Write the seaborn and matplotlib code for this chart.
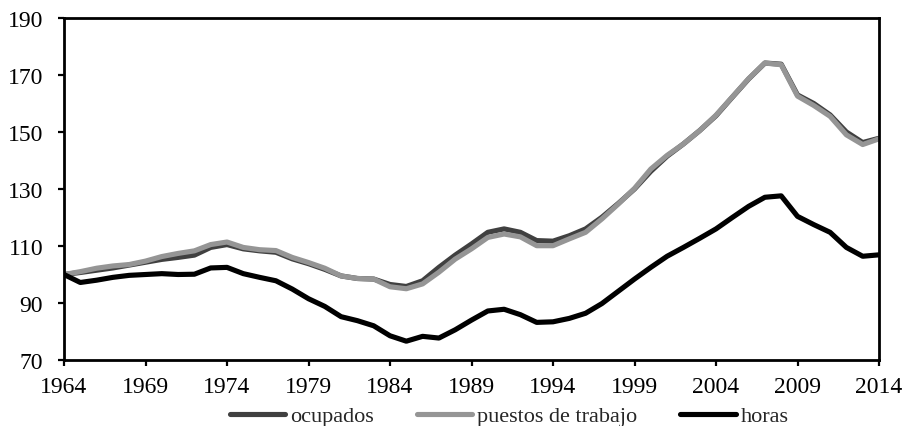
import matplotlib
matplotlib.use("Agg")
import matplotlib.pyplot as plt
import pandas as pd
import seaborn as sns

years = list(range(1964, 2015))
ocupados = [100.0, 100.7, 101.5, 102.3, 103.3, 104.3, 105.3, 106.0, 106.8, 109.5,
            110.5, 109.0, 108.3, 107.8, 105.5, 103.8, 101.8, 99.5, 98.6, 98.4,
            96.5, 95.8, 97.8, 102.5, 106.8, 110.7, 114.8, 116.0, 114.8, 111.9,
            111.7, 113.6, 116.0, 120.1, 124.9, 130.0, 136.2, 141.5, 145.8, 150.5,
            155.7, 162.2, 168.6, 174.2, 173.8, 163.0, 160.0, 156.0, 150.0, 146.3,
            147.8]
puestos = [100.0, 101.0, 102.2, 103.0, 103.5, 104.7, 106.3, 107.4, 108.3, 110.5,
           111.4, 109.5, 108.7, 108.4, 106.0, 104.2, 102.2, 99.5, 98.6, 98.4,
           95.7, 95.0, 96.7, 100.8, 105.4, 109.0, 113.0, 114.2, 113.2, 110.1,
           110.1, 112.5, 114.8, 119.5, 124.7, 130.2, 137.0, 141.8, 145.8, 150.5,
           155.9, 162.3, 168.7, 174.2, 173.6, 162.6, 159.3, 155.5, 149.0, 145.6,
           147.6]
horas = [100.0, 97.2, 98.0, 99.0, 99.7, 100.0, 100.3, 100.0, 100.1, 102.3,
         102.5, 100.3, 99.0, 97.8, 94.9, 91.5, 88.8, 85.2, 83.8, 82.0,
         78.5, 76.6, 78.3, 77.7, 80.6, 84.0, 87.2, 87.8, 85.9, 83.2,
         83.4, 84.6, 86.4, 89.8, 94.1, 98.4, 102.5, 106.4, 109.5, 112.7,
         116.0, 120.0, 123.9, 127.1, 127.6, 120.4, 117.5, 114.8, 109.5, 106.4,
         106.9]
series_names = ["ocupados", "puestos de trabajo", "horas"]
yticks = [70, 90, 110, 130, 150, 170, 190]
xticks = list(range(1964, 2015, 5))

df = pd.concat([
    pd.DataFrame({"year": years, "value": vals, "serie": name})
    for name, vals in zip(series_names, [ocupados, puestos, horas])
])

sns.set_theme(style="ticks")
plt.rcParams["font.family"] = ["Liberation Serif", "DejaVu Serif"]

fig = plt.figure(figsize=(9.05, 4.27), dpi=100)
ax = fig.add_axes([64 / 905, 1 - 361 / 427, (879 - 64) / 905, (361 - 19) / 427])

palette = {"ocupados": "#404040", "puestos de trabajo": "#959595", "horas": "#000000"}
sns.lineplot(data=df, x="year", y="value", hue="serie", hue_order=series_names,
             palette=palette, linewidth=3.7, ax=ax, legend=True)

ax.set_xlim(1964, 2014)
ax.set_ylim(70, 190)
ax.set_xticks(xticks)
ax.set_yticks(yticks)
ax.set_xlabel("")
ax.set_ylabel("")
for s in ax.spines.values():
    s.set_visible(True)
    s.set_linewidth(2.0)
    s.set_color("black")
ax.tick_params(axis="both", direction="out", length=4.5, width=1.6, labelsize=17,
               colors="black")
ax.tick_params(axis="x", pad=7)
ax.tick_params(axis="y", pad=10.5)

handles, labels = ax.get_legend_handles_labels()
ax.legend_.remove()
fig.legend(handles, labels, loc="center", bbox_to_anchor=(509 / 905, 1 - 417 / 427),
           ncol=3, frameon=False, fontsize=16, handlelength=2.5, handletextpad=0.2,
           columnspacing=1.95, borderpad=0, borderaxespad=0)

fig.savefig("out.png", dpi=100)
